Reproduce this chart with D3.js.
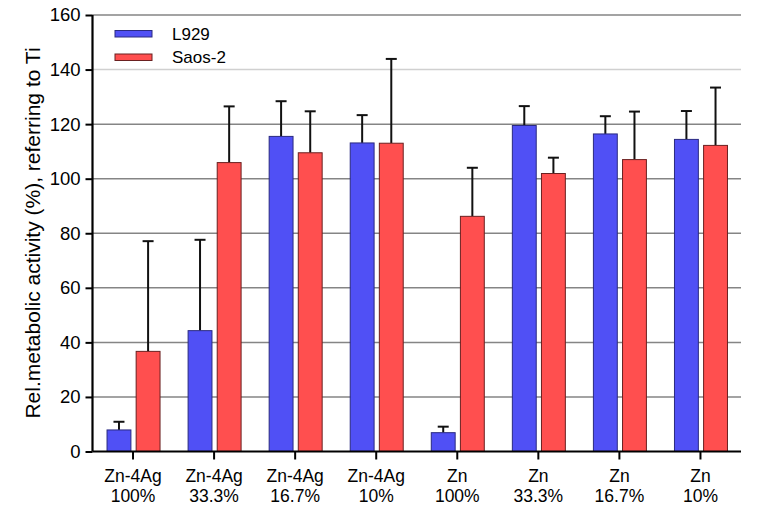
<!DOCTYPE html>
<html>
<head>
<meta charset="utf-8">
<title>Rel. metabolic activity</title>
<script src="https://d3js.org/d3.v7.min.js"></script>
<style>
  body { margin: 0; background: #fff; }
  text { font-family: "Liberation Sans", Arial, sans-serif; fill: #000; }
</style>
</head>
<body>
<script>
    // data
    var categories = ["Zn-4Ag|100%", "Zn-4Ag|33.3%", "Zn-4Ag|16.7%", "Zn-4Ag|10%",
                      "Zn|100%", "Zn|33.3%", "Zn|16.7%", "Zn|10%"];
    var seriesNames = ["L929", "Saos-2"];
    var l929Mean = [7.9, 44.3, 115.5, 113.1, 6.9, 119.5, 116.4, 114.4];
    var l929Top  = [10.9, 77.6, 128.4, 123.3, 9.1, 126.6, 122.9, 124.8];
    var saosMean = [36.7, 105.9, 109.5, 113.0, 86.2, 101.9, 107.0, 112.2];
    var saosTop  = [77.1, 126.5, 124.7, 143.9, 104.0, 107.7, 124.6, 133.4];
    var yTicks = [0, 20, 40, 60, 80, 100, 120, 140, 160];

    var width = 782, height = 505,
        blue = "#5050f5", red = "#ff4f4f";

    var svg = d3.select("body").append("svg")
        .attr("width", width)
        .attr("height", height);

    var x = d3.scaleBand().domain(categories).range([92.5, 741]).padding(0);
    var xs = d3.scaleBand().domain(seriesNames).range([-26, 27]).paddingInner(0.18);
    var y = d3.scaleLinear().domain([0, 160]).range([451.5, 15]);

    // grid lines
    svg.append("g").selectAll("line").data(yTicks.filter(function (d) { return d > 0; }))
        .enter().append("line")
        .attr("x1", 92.5).attr("x2", 741)
        .attr("y1", function (d) { return y(d); })
        .attr("y2", function (d) { return y(d); })
        .attr("stroke", function (d) { return d === 140 ? "#d0d0d0" : "#858585"; })
        .attr("stroke-width", 1.5);

    // build rows for bars
    var rows = [];
    categories.forEach(function (c, i) {
        rows.push({cat: c, s: "L929", v: l929Mean[i], top: l929Top[i], fill: blue, stroke: "#2a2a80"});
        rows.push({cat: c, s: "Saos-2", v: saosMean[i], top: saosTop[i], fill: red, stroke: "#6a2020"});
    });

    var cx = function (d) { return x(d.cat) + x.bandwidth() / 2 + xs(d.s); };

    // error bars (drawn behind bars)
    var err = svg.append("g").selectAll("g").data(rows).enter().append("g")
        .attr("stroke", "#111").attr("stroke-width", 2);
    err.append("line")
        .attr("x1", function (d) { return cx(d) + xs.bandwidth() / 2; })
        .attr("x2", function (d) { return cx(d) + xs.bandwidth() / 2; })
        .attr("y1", function (d) { return y(d.v); })
        .attr("y2", function (d) { return y(d.top); });
    err.append("line")
        .attr("x1", function (d) { return cx(d) + xs.bandwidth() / 2 - 5.5; })
        .attr("x2", function (d) { return cx(d) + xs.bandwidth() / 2 + 5.5; })
        .attr("y1", function (d) { return y(d.top); })
        .attr("y2", function (d) { return y(d.top); });

    // bars
    svg.append("g").selectAll("rect").data(rows).enter().append("rect")
        .attr("x", cx)
        .attr("width", xs.bandwidth())
        .attr("y", function (d) { return y(d.v); })
        .attr("height", function (d) { return y(0) - y(d.v); })
        .attr("fill", function (d) { return d.fill; })
        .attr("stroke", function (d) { return d.stroke; })
        .attr("stroke-width", 1);

    // y axis
    var yAxis = svg.append("g")
        .attr("transform", "translate(92.5,0)")
        .call(d3.axisLeft(y).tickValues(yTicks).tickSize(7).tickPadding(5).tickFormat(d3.format("d")));
    yAxis.select(".domain").attr("stroke", "#000").attr("stroke-width", 2.2)
        .attr("d", "M0," + y(160) + "V" + y(0));
    yAxis.selectAll(".tick line").attr("stroke", "#000").attr("stroke-width", 2);
    yAxis.selectAll(".tick text").style("font-size", "18.5px");

    // x axis
    var xAxis = svg.append("g")
        .attr("transform", "translate(0," + y(0) + ")")
        .call(d3.axisBottom(x).tickSize(8).tickFormat(""));
    xAxis.select(".domain").attr("stroke", "#000").attr("stroke-width", 2.2)
        .attr("d", "M92.5,0H741");
    xAxis.selectAll(".tick line").attr("stroke", "#000").attr("stroke-width", 2);
    xAxis.selectAll(".tick").append("text")
        .style("font-size", "17.5px")
        .attr("text-anchor", "middle")
        .each(function (d) {
            var parts = d.split("|");
            var t = d3.select(this);
            t.append("tspan").attr("x", 0).attr("y", 30).text(parts[0]);
            t.append("tspan").attr("x", 0).attr("y", 50).text(parts[1]);
        });

    // y axis title
    svg.append("text")
        .attr("transform", "translate(40,233) rotate(-90)")
        .attr("text-anchor", "middle")
        .style("font-size", "21px")
        .text("Rel.metabolic activity (%), referring to Ti");

    // legend
    var legend = svg.append("g").selectAll("g")
        .data([{name: seriesNames[0], fill: blue, stroke: "#2a2a80"},
               {name: seriesNames[1], fill: red, stroke: "#6a2020"}])
        .enter().append("g")
        .attr("transform", function (d, i) { return "translate(115," + (30.5 + i * 23.5) + ")"; });
    legend.append("rect")
        .attr("width", 37).attr("height", 6.5)
        .attr("fill", function (d) { return d.fill; })
        .attr("stroke", function (d) { return d.stroke; })
        .attr("stroke-width", 1);
    legend.append("text")
        .attr("x", 57).attr("y", 3.5)
        .attr("dy", "0.35em")
        .style("font-size", "17px")
        .text(function (d) { return d.name; });
</script>
</body>
</html>
